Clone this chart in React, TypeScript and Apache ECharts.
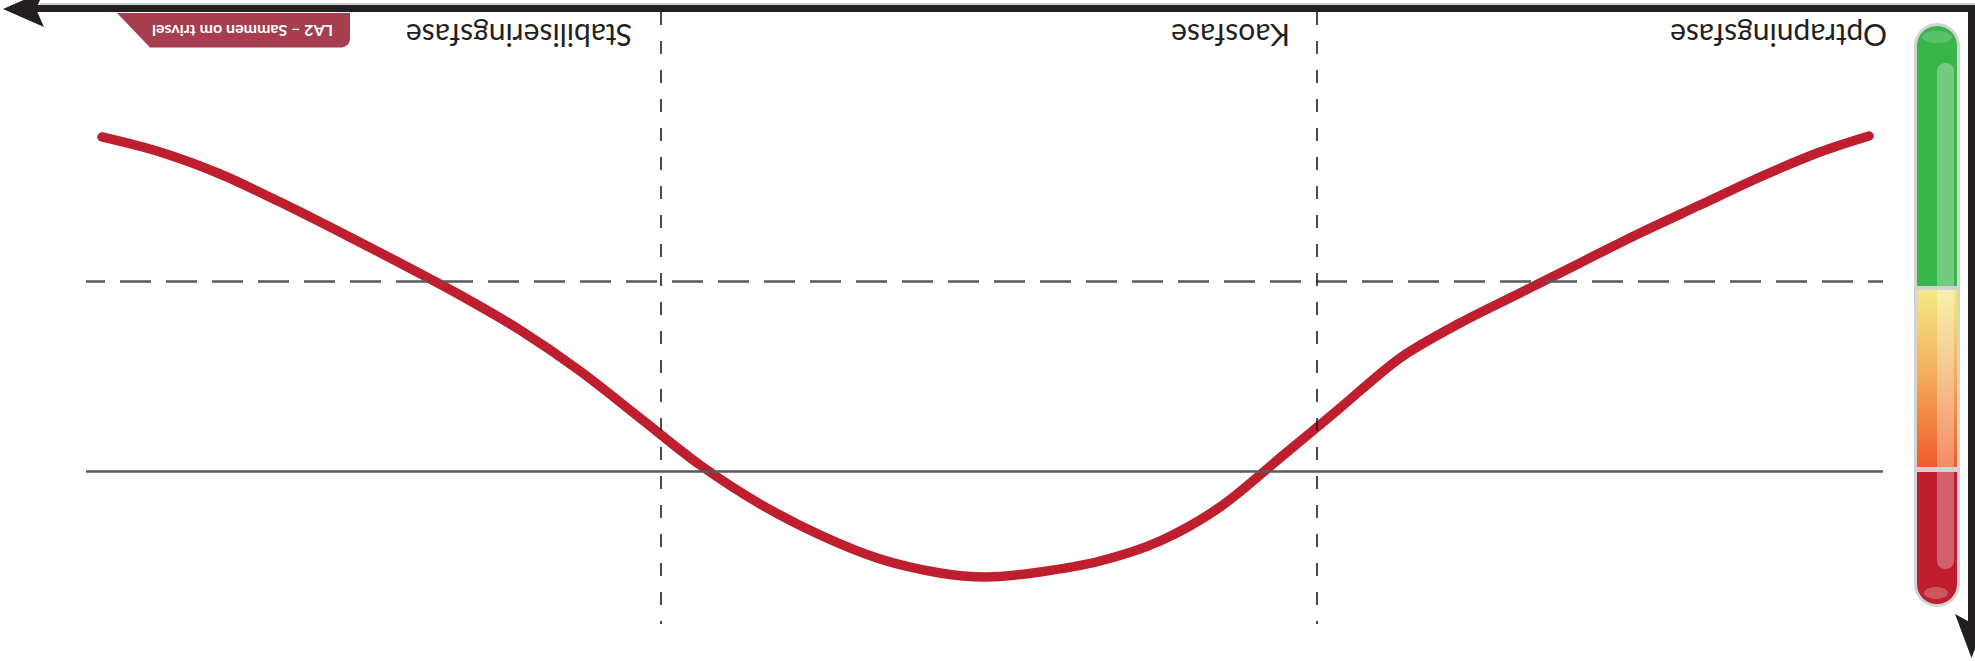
import React, { useEffect, useRef } from "react";
import * as echarts from "echarts";

// Curve (axes are inverted: the whole figure is shown turned 180°)
const curveX = [99.11, 95.88, 92.54, 89.2, 85.87, 82.53, 79.19, 75.85, 72.51, 69.17, 65.83, 62.49, 59.15, 55.81, 52.48, 49.92, 46.91, 43.57, 40.23, 36.89, 33.56, 30.22, 26.88, 23.54, 20.2, 16.86, 13.52, 10.18, 6.84, 3.51, 0.78];
const curveY = [20.42, 22.88, 26.47, 31.05, 35.95, 41.01, 46.24, 51.96, 58.66, 66.34, 74.02, 80.39, 85.46, 89.38, 91.67, 92.32, 91.5, 89.71, 86.44, 80.88, 72.88, 64.71, 56.54, 50.82, 45.92, 41.01, 36.11, 31.54, 26.96, 22.88, 20.26];

// Phase boundaries (x) and level lines (y)
const phaseBoundaries = [68, 31.5];
const dashedLevel = [44];
const solidLevel = [75];

const phaseLabels = ["Stabiliseringsfase", "Kaosfase", "Optrapningsfase"];
const badgeText = "LA2 – Sammen om trivsel";

export default function App() {
  const ref = useRef<HTMLDivElement>(null);

  useEffect(() => {
    document.body.style.margin = "0";
    const chart = echarts.init(ref.current!, undefined, { renderer: "svg" });
    const curveData = curveX.map((x, i) => [x, curveY[i]]);
    const F = "Lato, 'Open Sans', sans-serif";
    const labelPos = [632, 1290, 1887];
    const dark = "#231F20";

    const option: any = {
      animation: false,
      backgroundColor: "#ffffff",
      grid: { left: 86, right: 92, top: 12, bottom: 37 },
      xAxis: {
        type: "value", min: 0, max: 100, inverse: true, show: false,
        splitLine: { show: false },
      },
      yAxis: {
        type: "value", min: 0, max: 100, inverse: true, show: false,
        splitLine: { show: false },
      },
      series: [
        {
          type: "line",
          data: [],
          z: 1,
          markLine: {
            silent: true,
            symbol: "none",
            label: { show: false },
            data: [
              ...dashedLevel.map((v) => ({
                yAxis: v,
                lineStyle: { color: "#58595B", width: 2.5, type: [31, 15], dashOffset: 16 },
              })),
              ...solidLevel.map((v) => ({
                yAxis: v,
                lineStyle: { color: "#58595B", width: 2.5, type: "solid" },
              })),
              ...phaseBoundaries.map((v) => ({
                xAxis: v,
                lineStyle: { color: dark, width: 1.6, type: [13, 16] },
              })),
            ],
          },
        },
        {
          type: "line",
          data: curveData,
          smooth: 0.3,
          symbol: "none",
          z: 3,
          lineStyle: { color: "#BE1E2D", width: 9.5, cap: "round", join: "round" },
        },
      ],
      graphic: [
        // top arrow
        { type: "line", shape: { x1: 40, y1: 4, x2: 1975, y2: 4 }, style: { stroke: "#BCBEC0", lineWidth: 1.5 }, z: 5 },
        { type: "line", shape: { x1: 34, y1: 8.5, x2: 1975, y2: 8.5 }, style: { stroke: dark, lineWidth: 7 }, z: 6 },
        { type: "polygon", shape: { points: [[3, 9], [44, -9], [36, 9], [44, 27]] }, style: { fill: dark }, z: 6 },
        // right arrow
        { type: "line", shape: { x1: 1971.5, y1: 5, x2: 1971.5, y2: 628 }, style: { stroke: dark, lineWidth: 7 }, z: 6 },
        { type: "polygon", shape: { points: [[1971.5, 658], [1955, 614], [1971.5, 623], [1988, 614]] }, style: { fill: dark }, z: 6 },
        // badge
        {
          type: "polygon",
          shape: { points: [[117, 13], [350, 13], [350, 39], [349.4, 42], [347.7, 44.8], [345, 46.6], [342, 47.5], [150, 47.5]] },
          style: { fill: "#A63E50" },
          z: 5,
        },
        {
          type: "text", x: 333, y: 31, rotation: Math.PI, z: 7,
          style: { text: badgeText, fill: "#ffffff", font: `bold 16px ${F}`, align: "left", verticalAlign: "middle" },
        },
        // phase labels
        ...phaseLabels.map((t, i) => ({
          type: "text", x: labelPos[i], y: 36, rotation: Math.PI, z: 7,
          style: { text: t, fill: dark, font: `30px ${F}`, align: "left", verticalAlign: "middle" },
        })),
        // thermometer
        { type: "rect", shape: { x: 1914, y: 23, width: 46, height: 584, r: 23 }, style: { fill: "#D1D3D4" }, z: 4 },
        { type: "rect", shape: { x: 1917, y: 26, width: 40, height: 260, r: [20, 20, 0, 0] }, style: { fill: "#39B54A" }, z: 5 },
        { type: "rect", shape: { x: 1937, y: 63, width: 17, height: 223, r: [8, 8, 0, 0] }, style: { fill: "rgba(255,255,255,0.3)" }, z: 6 },
        { type: "ellipse", shape: { cx: 1937, cy: 37, rx: 15, ry: 6 }, style: { fill: "rgba(255,255,255,0.18)" }, z: 6 },
        {
          type: "rect", shape: { x: 1917, y: 290, width: 40, height: 177 },
          style: {
            fill: new echarts.graphic.LinearGradient(0, 0, 0, 1, [
              { offset: 0, color: "#F2EB87" },
              { offset: 0.5, color: "#F3A95A" },
              { offset: 1, color: "#F15A29" },
            ]),
          },
          z: 5,
        },
        { type: "rect", shape: { x: 1937, y: 290, width: 17, height: 177 }, style: { fill: "rgba(255,255,255,0.3)" }, z: 6 },
        { type: "rect", shape: { x: 1917, y: 472, width: 40, height: 132, r: [0, 0, 20, 20] }, style: { fill: "#BE1E2D" }, z: 5 },
        { type: "rect", shape: { x: 1937, y: 472, width: 17, height: 97, r: [0, 0, 8, 8] }, style: { fill: "rgba(255,255,255,0.3)" }, z: 6 },
        { type: "ellipse", shape: { cx: 1936, cy: 593, rx: 12, ry: 6 }, style: { fill: "rgba(255,255,255,0.25)" }, z: 6 },
      ],
    };
    chart.setOption(option);
    return () => chart.dispose();
  }, []);

  return (
    <div
      ref={ref}
      style={{ position: "absolute", left: 0, top: 0, width: 1975, height: 661, background: "#fff" }}
    />
  );
}
